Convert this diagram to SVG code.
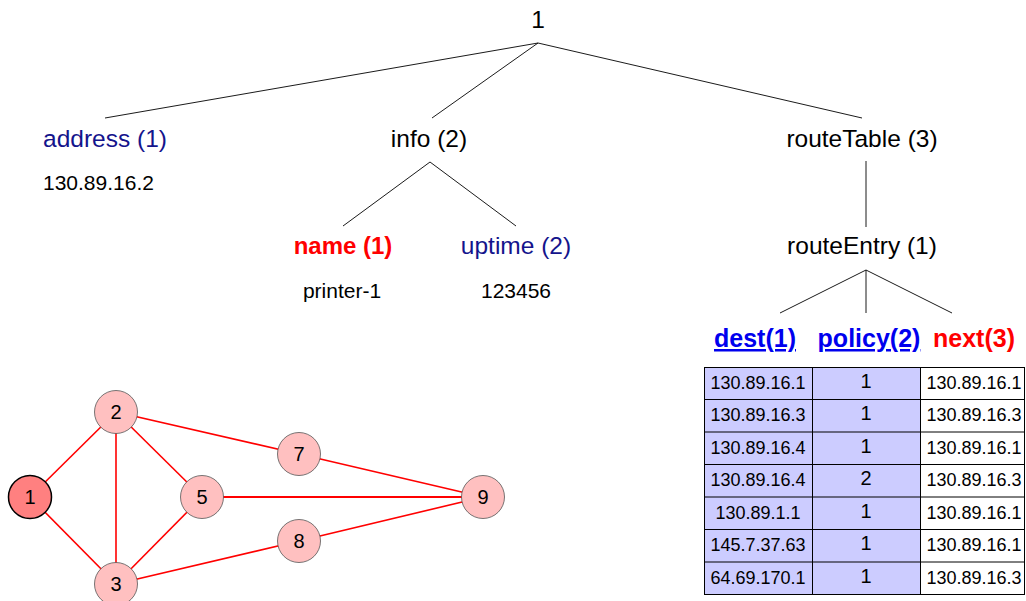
<svg xmlns="http://www.w3.org/2000/svg" width="1026" height="601" viewBox="0 0 1026 601">
<style>
text{font-family:"Liberation Sans",Arial,sans-serif;fill:#000}
.lab{font-size:24.5px;text-anchor:middle}
.blue{fill:#14148c}
.val{font-size:21px;text-anchor:middle}
.hdr{font-size:25px;font-weight:bold;text-anchor:middle}
.ul{fill:#0000ee;text-decoration:underline}
.red{fill:#ff0000}
.tl{stroke:#000;stroke-width:0.9;fill:none}
.ge{stroke:#ff0000;stroke-width:1.6}
.nd{fill:#ffc0c0;stroke:#555;stroke-width:0.8}
.cell{stroke:#000;stroke-width:1}
.ct{font-size:18px;text-anchor:middle}
.pn{font-size:20px;text-anchor:middle}
.nt{font-size:20px;text-anchor:middle}
</style>
<rect width="1026" height="601" fill="#fff"/>
<g id="tree-edges">
<line class="tl" x1="538" y1="43" x2="105" y2="118"/>
<line class="tl" x1="538" y1="43" x2="432" y2="118"/>
<line class="tl" x1="538" y1="43" x2="862" y2="118"/>
<line class="tl" x1="430" y1="162" x2="343" y2="226"/>
<line class="tl" x1="430" y1="162" x2="516" y2="226"/>
<line class="tl" x1="866" y1="161" x2="866" y2="227"/>
<line class="tl" x1="866" y1="270" x2="780" y2="313"/>
<line class="tl" x1="866" y1="270" x2="866" y2="313"/>
<line class="tl" x1="866" y1="270" x2="952" y2="313"/>
</g>
<g id="root"><text class="lab" x="538" y="28">1</text></g>
<g id="address"><text class="lab blue" x="43" y="147" style="text-anchor:start">address (1)</text><text class="val" x="43" y="190" style="text-anchor:start">130.89.16.2</text></g>
<g id="info"><text class="lab" x="429" y="147">info (2)</text></g>
<g id="name"><text class="hdr red" x="343" y="254" style="font-size:24px">name (1)</text><text class="val" x="342" y="298">printer-1</text></g>
<g id="uptime"><text class="lab blue" x="516" y="254">uptime (2)</text><text class="val" x="516" y="298">123456</text></g>
<g id="routeTable"><text class="lab" x="862" y="147">routeTable (3)</text></g>
<g id="routeEntry"><text class="lab" x="862" y="254">routeEntry (1)</text></g>
<g id="headers">
<text class="hdr ul" x="755" y="347">dest(1)</text>
<text class="hdr ul" x="869" y="347">policy(2)</text>
<text class="hdr red" x="974" y="347">next(3)</text>
</g>
<g id="table">
<rect x="704.5" y="367.5" width="216" height="227" fill="#ccccff"/>
<rect x="704.5" y="367.5" width="320" height="227" fill="none" class="cell"/>
<line class="cell" x1="812.5" y1="367.5" x2="812.5" y2="594.5"/>
<line class="cell" x1="920.5" y1="367.5" x2="920.5" y2="594.5"/>
<line class="cell" x1="704.5" y1="399.5" x2="1024.5" y2="399.5"/>
<line class="cell" x1="704.5" y1="432" x2="1024.5" y2="432"/>
<line class="cell" x1="704.5" y1="464.5" x2="1024.5" y2="464.5"/>
<line class="cell" x1="704.5" y1="497" x2="1024.5" y2="497"/>
<line class="cell" x1="704.5" y1="529.5" x2="1024.5" y2="529.5"/>
<line class="cell" x1="704.5" y1="562" x2="1024.5" y2="562"/>
<text class="ct" x="758" y="389">130.89.16.1</text><text class="pn" x="866" y="388">1</text><text class="ct" x="974" y="389">130.89.16.1</text>
<text class="ct" x="758" y="421">130.89.16.3</text><text class="pn" x="866" y="420">1</text><text class="ct" x="974" y="421">130.89.16.3</text>
<text class="ct" x="758" y="454">130.89.16.4</text><text class="pn" x="866" y="453">1</text><text class="ct" x="974" y="454">130.89.16.1</text>
<text class="ct" x="758" y="486">130.89.16.4</text><text class="pn" x="866" y="485">2</text><text class="ct" x="974" y="486">130.89.16.3</text>
<text class="ct" x="758" y="519">130.89.1.1</text><text class="pn" x="866" y="518">1</text><text class="ct" x="974" y="519">130.89.16.1</text>
<text class="ct" x="758" y="551">145.7.37.63</text><text class="pn" x="866" y="550">1</text><text class="ct" x="974" y="551">130.89.16.1</text>
<text class="ct" x="758" y="584">64.69.170.1</text><text class="pn" x="866" y="583">1</text><text class="ct" x="974" y="584">130.89.16.3</text>
</g>
<g id="graph-edges">
<line class="ge" x1="30" y1="497" x2="116" y2="412"/>
<line class="ge" x1="30" y1="497" x2="116" y2="584"/>
<line class="ge" x1="116" y1="412" x2="116" y2="584"/>
<line class="ge" x1="116" y1="412" x2="202" y2="497"/>
<line class="ge" x1="116" y1="412" x2="299" y2="454"/>
<line class="ge" x1="116" y1="584" x2="202" y2="497"/>
<line class="ge" x1="116" y1="584" x2="299" y2="541"/>
<line class="ge" x1="202" y1="497" x2="483" y2="497" style="stroke-width:2.2"/>
<line class="ge" x1="299" y1="454" x2="483" y2="497"/>
<line class="ge" x1="299" y1="541" x2="483" y2="497"/>
</g>
<g id="n1"><circle cx="30" cy="497" r="21.5" fill="#ff8080" stroke="#000" stroke-width="1.5"/><text class="nt" x="30" y="504">1</text></g>
<g id="n2"><circle class="nd" cx="116" cy="412" r="21.5"/><text class="nt" x="116" y="419">2</text></g>
<g id="n3"><circle class="nd" cx="116" cy="584" r="21.5"/><text class="nt" x="116" y="591">3</text></g>
<g id="n5"><circle class="nd" cx="202" cy="497" r="21.5"/><text class="nt" x="202" y="504">5</text></g>
<g id="n7"><circle class="nd" cx="299" cy="454" r="21.5"/><text class="nt" x="299" y="461">7</text></g>
<g id="n8"><circle class="nd" cx="299" cy="541" r="21.5"/><text class="nt" x="299" y="548">8</text></g>
<g id="n9"><circle class="nd" cx="483" cy="497" r="21.5"/><text class="nt" x="483" y="504">9</text></g>
</svg>
